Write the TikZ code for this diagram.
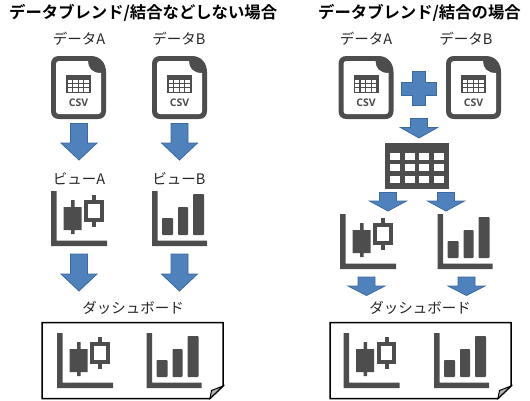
\documentclass[tikz,border=0pt]{standalone}
\usepackage{fontspec}
\setmainfont{Noto Sans CJK JP}[BoldFont={Noto Sans CJK JP Bold}]
\setsansfont{Open Sans}
\definecolor{ink}{HTML}{4D4D4D}
\definecolor{arrowfill}{HTML}{4F81BD}
\definecolor{arrowedge}{HTML}{3A6A9F}
\tikzset{
  title/.style={font=\fontsize{16.35}{18}\selectfont\bfseries,inner sep=0pt,text=black},
  label/.style={font=\fontsize{14.5}{16}\selectfont,inner sep=0pt,text=black!85},
  csvtext/.style={font=\sffamily\bfseries\fontsize{10.5}{11}\selectfont,inner sep=0pt,text=ink},
  blockarrow/.style={fill=arrowfill,draw=arrowedge,line width=0.8pt,line join=miter},
  board/.style={fill=white,draw=black,line width=1.5pt,line join=miter},
  pics/candle/.style={code={
    \fill[ink] (0,0) rectangle (5.5,55) (0,49.5) rectangle (56,55);
    \fill[ink] (12.5,16) rectangle (30.5,39) (20,9) rectangle (23.5,43);
    \fill[ink] (41,4) rectangle (45,36);
    \fill[ink] (33,9) rectangle (52.5,31);
    \fill[white] (37,13) rectangle (48.5,27);
  }},
  pics/bars/.style={code={
    \fill[ink] (0,0) rectangle (5.5,55) (0,49.5) rectangle (55,55);
    \fill[ink,rounded corners=0.8] (10,27) rectangle (21,44);
    \fill[ink,rounded corners=0.8] (26,16) rectangle (36,44);
    \fill[ink,rounded corners=0.8] (41,3) rectangle (52,44);
  }},
  pics/csvdoc/.style={code={
    \fill[ink] (8,0) -- (40,0) .. controls (49,0) and (55,7) .. (55,16) -- (55,55) .. controls (55,60) and (52,63) .. (47,63) -- (8,63) .. controls (3,63) and (0,60) .. (0,55) -- (0,8) .. controls (0,3) and (3,0) .. (8,0) -- cycle;
    \fill[white] (8,5) -- (37,5) .. controls (37,12) and (41,17) .. (50,17) -- (50,55) .. controls (50,57) and (49,58) .. (47,58) -- (8,58) .. controls (6,58) and (5,57) .. (5,55) -- (5,8) .. controls (5,6) and (6,5) .. (8,5) -- cycle;
    \fill[ink] (15,19) rectangle (40,37);
    \foreach \i in {0,1,2,3}{\foreach \j in {0,1,2}{
      \fill[white] ({16.5+\i*5.6},{24+\j*4.2}) rectangle +(4.4,3.2);
    }}
    \node[csvtext] at (27.5,47) {CSV};
  }}
}
\newcommand{\downarrowshape}[6]{% cx, halfshaft, halfhead, top, neck, tip
  \draw[blockarrow] ({#1-#2},#4) -- ({#1+#2},#4) -- ({#1+#2},#5) -- ({#1+#3},#5) -- (#1,#6) -- ({#1-#3},#5) -- ({#1-#2},#5) -- cycle;
}
\newcommand{\dashboard}[2]{% left, right
  \draw[board] (#1,322.5) -- (#2,322.5) -- (#2,386) -- ({#2-13},398.5) -- (#1,398.5) -- cycle;
  \draw[fill=black!30,draw=black,line width=1pt,line join=miter] (#2,386) -- ({#2-13},398.5) -- ({#2-11.5},390.5) -- cycle;
}
\begin{document}
\begin{tikzpicture}[x=1pt,y=-1pt]
\useasboundingbox (0,0) rectangle (530,400);
% titles
\node[title,anchor=west] (t1) at (9,13) {データブレンド/結合などしない場合};
\node[title,anchor=west] (t2) at (318,13) {データブレンド/結合の場合};
% labels
\node[label] (da1) at (79,39) {データA};
\node[label] (db1) at (179,39) {データB};
\node[label] (va) at (79,179) {ビューA};
\node[label] (vb) at (179,179) {ビューB};
\node[label] (d1) at (133,308) {ダッシュボード};
\node[label] (da2) at (366,39) {データA};
\node[label] (db2) at (466,39) {データB};
\node[label] (d2) at (420,308) {ダッシュボード};
% left
\pic at (51,56) {csvdoc};
\pic at (152,56) {csvdoc};
\downarrowshape{79}{8.5}{18}{123.5}{143}{160}
\downarrowshape{179.5}{8.5}{18}{123.5}{143}{160}
\pic at (51,191) {candle};
\pic at (152,191) {bars};
\downarrowshape{79}{8.5}{18}{254}{274}{291}
\downarrowshape{179.5}{8.5}{18}{254}{274}{291}
\dashboard{42}{223}
\pic at (57,333) {candle};
\pic at (146.5,333) {bars};
% right
\pic at (338.5,56) {csvdoc};
\pic at (446,56) {csvdoc};
\draw[blockarrow] (412.5,71.5) -- (425.5,71.5) -- (425.5,82.5) -- (436.5,82.5) -- (436.5,95) -- (425.5,95) -- (425.5,105.5) -- (412.5,105.5) -- (412.5,95) -- (401.5,95) -- (401.5,82.5) -- (412.5,82.5) -- cycle;
\downarrowshape{419}{8.5}{18.5}{118.5}{127.5}{138}
\fill[ink] (385,143) rectangle (449,188.5);
\foreach \cx in {390,404.7,419.4,434.1}{\foreach \cy in {152.7,164.2,175.8}{
  \fill[white] (\cx,\cy) rectangle +(10,6.8);
}}
\downarrowshape{388}{8.5}{18.5}{192.5}{201}{211}
\downarrowshape{446}{8.5}{18.5}{192.5}{201}{211}
\pic at (340,214) {candle};
\pic at (437.5,214) {bars};
\downarrowshape{366.5}{8.5}{18.5}{277}{286}{295.5}
\downarrowshape{466.5}{8.5}{18.5}{277}{286}{295.5}
\dashboard{330}{511}
\pic at (343.5,333) {candle};
\pic at (434,333) {bars};
\end{tikzpicture}
\end{document}
